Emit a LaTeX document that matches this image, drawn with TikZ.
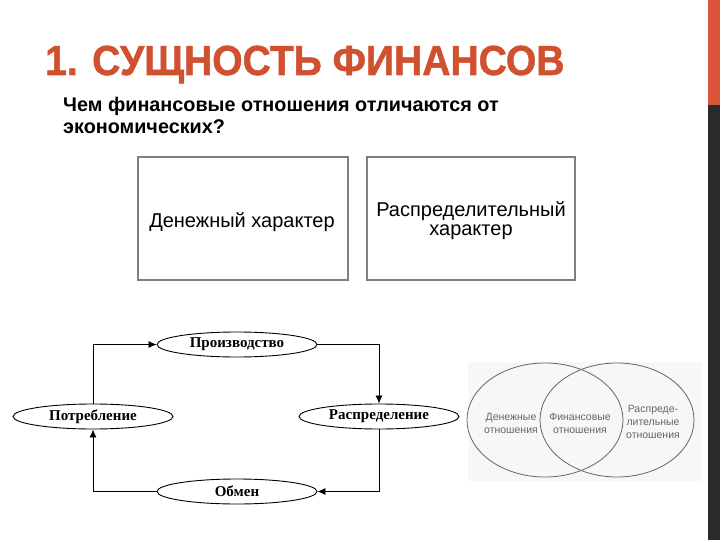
\documentclass[tikz,border=0pt]{standalone}
\usepackage{fontspec}
\usepackage{graphicx}
\setmainfont{Liberation Serif}
\newfontfamily\arialf{Liberation Sans}
\newfontface\titlef{Liberation Sans Bold}[FakeBold=1.2]
\usetikzlibrary{shapes.geometric,arrows.meta}
\definecolor{titlered}{HTML}{D0502F}
\definecolor{barorange}{HTML}{D8553A}
\definecolor{bardark}{HTML}{2A2A2D}
\definecolor{boxgray}{HTML}{7F7F7F}
\definecolor{venngray}{HTML}{666666}
\tikzset{
  cyc/.style={ellipse, draw, line width=0.9pt, minimum width=160pt, minimum height=25pt, inner sep=0pt,
    font=\fontsize{15}{15}\selectfont\bfseries},
  arr/.style={line width=0.8pt, -{Latex[length=8pt,width=7pt]}},
  charbox/.style={draw=boxgray, line width=2pt, minimum width=210pt, minimum height=123pt, inner sep=0pt},
  boxtext/.style={anchor=base, inner sep=0pt, font=\arialf\fontsize{20}{20}\selectfont},
  subtext/.style={anchor=base west, inner sep=0pt, font=\arialf\bfseries\fontsize{19.8}{20}\selectfont},
  venntext/.style={text=venngray, align=center, font=\arialf\fontsize{10.5}{13}\selectfont, inner sep=0pt},
}
\begin{document}
\begin{tikzpicture}[x=1pt,y=-1pt]
\useasboundingbox (0,0) rectangle (720,540);
\fill[white] (0,0) rectangle (720,540);
% side bar
\fill[barorange] (708,0) rectangle (720,105);
\fill[bardark] (708,105) rectangle (720,540);
% title
\node[anchor=base west, inner sep=0pt, text=titlered, font=\titlef\fontsize{42}{42}\selectfont] (title) at (45,75) {\scalebox{0.93}[1]{1. СУЩНОСТЬ ФИНАНСОВ}};
\node[subtext] (q1) at (63,112) {Чем финансовые отношения отличаются от};
\node[subtext] (q2) at (63,134) {экономических?};
% boxes
\node[charbox] (b1) at (243,218.5) {};
\node[charbox, minimum width=208pt] (b2) at (471,218.5) {};
\node[boxtext] (b1t) at (242,227) {Денежный характер};
\node[boxtext] (b2t1) at (471,217) {Распределительный};
\node[boxtext] (b2t2) at (471,235.5) {характер};
% cycle diagram
\node[cyc] (proizv) at (237,344.5) {Производство};
\node[cyc] (potr) at (93,416.5) {Потребление};
\node[cyc] (raspr) at (379,416.5) {Распределение};
\node[cyc] (obmen) at (237,491.5) {Обмен};
\draw[arr] (potr.north) |- (proizv.west);
\draw[arr] (proizv.east) -| (raspr.north);
\draw[arr] (raspr.south) |- (obmen.east);
\draw[arr] (obmen.west) -| (potr.south);
% venn
\fill[black!3] (468,362) rectangle (702,481);
\draw[venngray, line width=0.8pt] (545,420) ellipse [x radius=78, y radius=57];
\draw[venngray, line width=0.8pt] (617,420) ellipse [x radius=77, y radius=57];
\node[venntext] (v1) at (511,423) {Денежные\\отношения};
\node[venntext] (v2) at (580,423) {Финансовые\\отношения};
\node[venntext] (v3) at (653,422) {Распреде-\\лительные\\отношения};
\end{tikzpicture}
\end{document}
